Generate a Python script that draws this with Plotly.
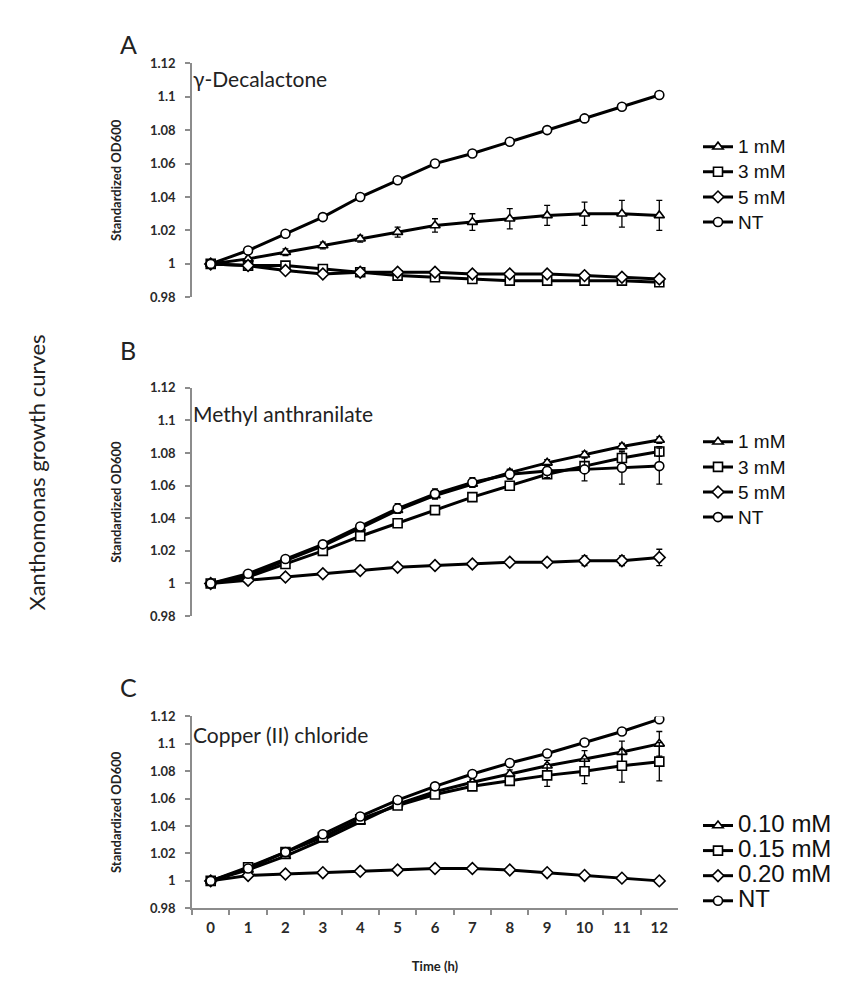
import plotly.graph_objects as go

hours = [str(h) for h in range(13)]

# Panel A: gamma-Decalactone
a_names = ["1 mM", "3 mM", "5 mM", "NT"]
a_1mM = [1, 1.003, 1.007, 1.011, 1.015, 1.019, 1.023, 1.025, 1.027, 1.029, 1.030, 1.030, 1.029]
a_1mM_err = [0, 0.001, 0.002, 0.002, 0.002, 0.003, 0.004, 0.005, 0.006, 0.006, 0.007, 0.008, 0.009]
a_3mM = [1, 0.999, 0.999, 0.997, 0.995, 0.993, 0.992, 0.991, 0.990, 0.990, 0.990, 0.990, 0.989]
a_3mM_err = [0, 0.001, 0.001, 0.001, 0.001, 0.001, 0.001, 0.001, 0.001, 0.001, 0.001, 0.001, 0.001]
a_5mM = [1, 0.999, 0.996, 0.994, 0.995, 0.995, 0.995, 0.994, 0.994, 0.994, 0.993, 0.992, 0.991]
a_5mM_err = [0, 0.001, 0.001, 0.001, 0.001, 0.001, 0.001, 0.001, 0.001, 0.001, 0.001, 0.001, 0.001]
a_NT = [1, 1.008, 1.018, 1.028, 1.040, 1.050, 1.060, 1.066, 1.073, 1.080, 1.087, 1.094, 1.101]
a_NT_err = [0, 0.001, 0.001, 0.001, 0.001, 0.001, 0.001, 0.001, 0.001, 0.001, 0.001, 0.001, 0.002]

# Panel B: Methyl anthranilate
b_names = ["1 mM", "3 mM", "5 mM", "NT"]
b_1mM = [1, 1.005, 1.014, 1.023, 1.034, 1.045, 1.054, 1.061, 1.068, 1.074, 1.079, 1.084, 1.088]
b_1mM_err = [0, 0.001, 0.001, 0.001, 0.002, 0.002, 0.002, 0.002, 0.002, 0.002, 0.002, 0.002, 0.002]
b_3mM = [1, 1.004, 1.012, 1.020, 1.029, 1.037, 1.045, 1.053, 1.060, 1.067, 1.072, 1.077, 1.081]
b_3mM_err = [0, 0.001, 0.001, 0.001, 0.001, 0.001, 0.001, 0.001, 0.002, 0.002, 0.002, 0.003, 0.003]
b_5mM = [1, 1.002, 1.004, 1.006, 1.008, 1.010, 1.011, 1.012, 1.013, 1.013, 1.014, 1.014, 1.016]
b_5mM_err = [0, 0.001, 0.001, 0.001, 0.001, 0.001, 0.001, 0.001, 0.001, 0.002, 0.003, 0.003, 0.005]
b_NT = [1, 1.006, 1.015, 1.024, 1.035, 1.046, 1.055, 1.062, 1.067, 1.069, 1.070, 1.071, 1.072]
b_NT_err = [0, 0.001, 0.001, 0.001, 0.002, 0.003, 0.003, 0.003, 0.003, 0.004, 0.007, 0.010, 0.011]

# Panel C: Copper (II) chloride
c_names = ["0.10 mM", "0.15 mM", "0.20 mM", "NT"]
c_010 = [1, 1.008, 1.018, 1.030, 1.043, 1.056, 1.065, 1.072, 1.078, 1.084, 1.089, 1.094, 1.100]
c_010_err = [0, 0.001, 0.001, 0.001, 0.001, 0.001, 0.002, 0.002, 0.003, 0.004, 0.006, 0.008, 0.009]
c_015 = [1, 1.010, 1.021, 1.032, 1.045, 1.055, 1.063, 1.069, 1.073, 1.077, 1.080, 1.084, 1.087]
c_015_err = [0, 0.001, 0.001, 0.001, 0.001, 0.001, 0.002, 0.002, 0.003, 0.008, 0.009, 0.012, 0.014]
c_020 = [1, 1.004, 1.005, 1.006, 1.007, 1.008, 1.009, 1.009, 1.008, 1.006, 1.004, 1.002, 1.000]
c_020_err = [0, 0.001, 0.001, 0.001, 0.001, 0.001, 0.001, 0.001, 0.001, 0.001, 0.001, 0.001, 0.001]
c_NT = [1, 1.009, 1.021, 1.034, 1.047, 1.059, 1.069, 1.078, 1.086, 1.093, 1.101, 1.109, 1.118]
c_NT_err = [0, 0.001, 0.001, 0.001, 0.001, 0.001, 0.001, 0.001, 0.001, 0.002, 0.002, 0.002, 0.002]

symbols = ["triangle-up", "square", "diamond", "circle"]
panel_titles = ["γ-Decalactone", "Methyl anthranilate", "Copper (II) chloride"]
panel_title_y = [1.111, 1.104, 1.107]
panel_letters = ["A", "B", "C"]
yticks = [0.98, 1, 1.02, 1.04, 1.06, 1.08, 1.1, 1.12]
ytick_text = ["0.98", "1", "1.02", "1.04", "1.06", "1.08", "1.1", "1.12"]

panels = [
    (a_names, [a_1mM, a_3mM, a_5mM, a_NT], [a_1mM_err, a_3mM_err, a_5mM_err, a_NT_err]),
    (b_names, [b_1mM, b_3mM, b_5mM, b_NT], [b_1mM_err, b_3mM_err, b_5mM_err, b_NT_err]),
    (c_names, [c_010, c_015, c_020, c_NT], [c_010_err, c_015_err, c_020_err, c_NT_err]),
]

W, H = 849, 986
def py(pix):
    return 1 - pix / H

x_dom = [184 / W, 670 / W]
y_px = [(48, 286), (378, 610), (712, 907)]
legend_top = [115, 415, 805]
legend_text_px = [19, 19, 24]
letter_px = [28, 340, 682]

fig = go.Figure()
for i, (names, series, errs) in enumerate(panels):
    xa = "x" if i == 0 else f"x{i+1}"
    ya = "y" if i == 0 else f"y{i+1}"
    lg = "legend" if i == 0 else f"legend{i+1}"
    for name, vals, err, sym in zip(names, series, errs, symbols):
        fig.add_trace(go.Scatter(
            x=hours, y=vals,
            name=f"<span style='font-size:{legend_text_px[i]}px'>{name}</span>",
            mode="lines+markers",
            xaxis=xa, yaxis=ya, legend=lg,
            line=dict(color="black", width=3),
            marker=dict(symbol=sym, size=9, color="white",
                        line=dict(color="black", width=1.6)),
            error_y=dict(type="data", array=err, color="black",
                         thickness=1.3, width=3),
        ))

layout = dict(
    width=W, height=H, margin=dict(l=0, r=0, t=0, b=0),
    paper_bgcolor="white", plot_bgcolor="white",
    showlegend=True,
)
for i in range(3):
    sfx = "" if i == 0 else str(i + 1)
    top, bot = y_px[i]
    layout[f"xaxis{sfx}"] = dict(
        domain=x_dom, anchor=f"y{sfx}", type="category",
        categoryorder="array", categoryarray=hours,
        range=[-0.5, 12.5], tickson="boundaries",
        showgrid=False, zeroline=False,
        visible=(i == 2),
        showline=True, linecolor="#8c8c8c", linewidth=1.5,
        ticks="outside", ticklen=5, tickcolor="#8c8c8c", tickwidth=1.5,
        ticklabelstandoff=5,
        tickfont=dict(family="Lato, Open Sans, sans-serif", size=15, color="#2a2a2a", weight="bold"),
        title=dict(text="<b>Time (h)</b>", font=dict(family="Lato, sans-serif", size=13, color="#222222"), standoff=27),
    )
    layout[f"yaxis{sfx}"] = dict(
        domain=[py(bot), py(top)], anchor=f"x{sfx}",
        range=[0.98, 1.12], tickvals=yticks, ticktext=ytick_text,
        showgrid=False, zeroline=False,
        showline=True, linecolor="#8c8c8c", linewidth=1.5,
        ticks="outside", ticklen=5, tickcolor="#8c8c8c", tickwidth=1.5,
        ticklabelstandoff=7,
        tickfont=dict(family="Lato, Open Sans, sans-serif", size=13, color="#2a2a2a", weight="bold"),
        title=dict(text="<b>Standardized OD600</b>", font=dict(family="Lato, sans-serif", size=13, color="#222222"), standoff=25),
    )
    lg = "legend" if i == 0 else f"legend{i+1}"
    layout[lg] = dict(
        x=690 / W, y=py(legend_top[i]), xanchor="left", yanchor="top",
        font=dict(family="Liberation Sans, Arial, sans-serif", size=17, color="#111111"),
        itemwidth=30, tracegroupgap=0, bgcolor="rgba(0,0,0,0)",
    )

fig.update_layout(**layout)

annotations = []
for i in range(3):
    sfx = "" if i == 0 else str(i + 1)
    annotations.append(dict(
        text=panel_letters[i], x=110 / W, y=py(letter_px[i]), xref="paper", yref="paper",
        xanchor="left", yanchor="middle", showarrow=False,
        font=dict(family="Lato, sans-serif", size=25, color="#222222"),
    ))
    annotations.append(dict(
        text=panel_titles[i], x=183 / W, y=panel_title_y[i], xref="paper", yref=f"y{sfx}",
        xanchor="left", yanchor="middle", showarrow=False,
        font=dict(family="Lato, sans-serif", size=21, color="#222222"),
    ))
annotations.append(dict(
    text="Xanthomonas growth curves", x=28 / W, y=py(464), xref="paper", yref="paper",
    xanchor="center", yanchor="middle", showarrow=False, textangle=-90,
    font=dict(family="Lato, sans-serif", size=22, color="#222222"),
))
fig.update_layout(annotations=annotations)

fig.write_html("out.html")
